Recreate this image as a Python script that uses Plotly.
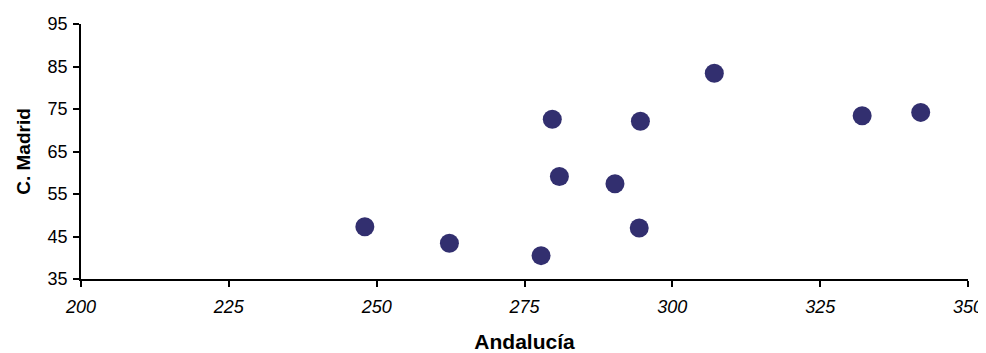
import plotly.graph_objects as go

andalucia = [248.0, 262.3, 277.8, 279.7, 280.9, 290.3, 294.6, 294.4, 307.1, 332.1, 342.0]
madrid = [47.3, 43.4, 40.5, 72.6, 59.1, 57.4, 72.1, 47.0, 83.4, 73.4, 74.2]
x_ticks = [200, 225, 250, 275, 300, 325, 350]
y_ticks = [35, 45, 55, 65, 75, 85, 95]

fig = go.Figure(go.Scatter(
    x=andalucia, y=madrid, mode="markers",
    marker=dict(symbol="circle", size=19, color="#322F6F", line=dict(width=0)),
    cliponaxis=False, hoverinfo="x+y",
))

font = "Liberation Sans, Arial, sans-serif"
# page body has an 8px margin; figure size/margins compensate for it
fig.update_layout(
    width=978, height=345,
    margin=dict(l=73, r=18, t=16, b=74),
    paper_bgcolor="white", plot_bgcolor="white",
    showlegend=False,
    font=dict(family=font, color="black", size=18),
    xaxis=dict(
        range=[200, 350], tickvals=x_ticks, ticktext=[f"<i>{v}</i>" for v in x_ticks],
        showgrid=False, zeroline=False, showline=True, linecolor="black", linewidth=1.5,
        ticks="outside", ticklen=6, tickwidth=1.5, tickcolor="black",
        tickfont=dict(size=18, family=font), automargin=False, ticklabelstandoff=5,
        title=dict(text="<b>Andalucía</b>", font=dict(size=21, family=font), standoff=18),
    ),
    yaxis=dict(
        range=[35, 95], tickvals=y_ticks,
        showgrid=False, zeroline=False, showline=True, linecolor="black", linewidth=1.5,
        ticks="outside", ticklen=6, tickwidth=1.5, tickcolor="black",
        tickfont=dict(size=18, family=font), automargin=False, ticklabelstandoff=2,
        title=dict(text="<b>C. Madrid</b>", font=dict(size=19, family=font), standoff=12),
    ),
)

fig.write_html("out.html")
